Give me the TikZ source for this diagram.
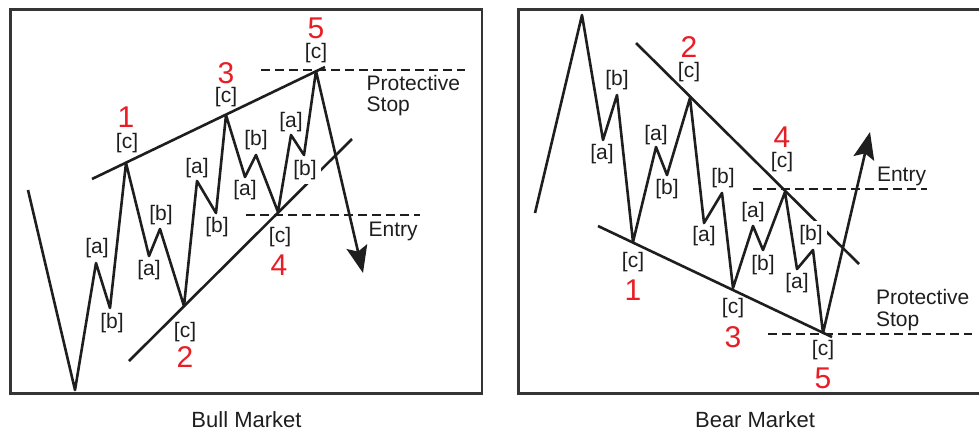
\documentclass[tikz,border=0pt]{standalone}
\usepackage{fontspec}
\setmainfont{Liberation Sans}
\usetikzlibrary{arrows.meta}
\definecolor{wavered}{RGB}{232,30,38}
\definecolor{ink}{RGB}{30,30,30}
\begin{document}
\begin{tikzpicture}[x=1pt,y=-1pt,
  frame/.style={line width=2.5pt, draw=ink!90},
  wave/.style={line width=2.6pt, line join=round, draw=ink},
  trend/.style={line width=2.6pt, draw=ink},
  level/.style={line width=2.5pt, draw=ink, dash pattern=on 9pt off 5pt},
  lab/.style={font=\fontsize{21}{24}\selectfont, inner sep=1pt, text=ink},
  gaplab/.style={lab, fill=white, inner sep=4pt},
  num/.style={font=\fontsize{30}{34}\selectfont, inner sep=0pt, text=wavered},
  note/.style={font=\fontsize{21}{24}\selectfont, inner sep=0pt, anchor=base west, text=ink},
  title/.style={font=\fontsize{22}{26}\selectfont, inner sep=0pt, anchor=base, text=ink},
  tip/.style={-{Stealth[length=27pt,width=21pt,inset=5pt]}},
]
\useasboundingbox (0,0) rectangle (979,429);

% frames
\draw[frame] (10.5,9.7) rectangle (482,393.7);
\draw[frame] (518.7,9.7) rectangle (1000,393.7);

% ---------------- Bull market ----------------
\coordinate (a0) at (28,190);
\coordinate (a1) at (75,390);
\coordinate (a2) at (96,263);
\coordinate (a3) at (110,308);
\coordinate (a4) at (126,163);
\coordinate (a5) at (149,256);
\coordinate (a6) at (160,229);
\coordinate (a7) at (184,306);
\coordinate (a8) at (197,181);
\coordinate (a9) at (216,213);
\coordinate (a10) at (226,115);
\coordinate (a11) at (245,177);
\coordinate (a12) at (256,155);
\coordinate (a13) at (278,212);
\coordinate (a14) at (291,135);
\coordinate (a15) at (304,155);
\coordinate (a16) at (316,71);
\coordinate (a17) at (363,273);

\coordinate (ut1) at (92,179);
\coordinate (ut2) at (325,67);
\coordinate (lt1) at (129,361);
\coordinate (lt2) at (352,139);
\coordinate (ds1) at (261,70);
\coordinate (ds2) at (465,70);
\coordinate (de1) at (246,215);
\coordinate (de2) at (420,215);

\draw[trend] (ut1) -- (ut2);
\draw[trend] (lt1) -- (lt2);
\draw[level] (ds1) -- (ds2);
\draw[level] (de1) -- (de2);
\node[gaplab] (bullb5) at (305,170) {[b]};

\draw[wave,tip] (a0) -- (a1) -- (a2) -- (a3) -- (a4) -- (a5) -- (a6) -- (a7)
  -- (a8) -- (a9) -- (a10) -- (a11) -- (a12) -- (a13) -- (a14) -- (a15)
  -- (a16) -- (a17);

\node[num] (bn1) at (126,117) {1};
\node[lab] (bc1) at (127,143) {[c]};
\node[lab] (ba1) at (97,248) {[a]};
\node[lab] (bb1) at (112,323) {[b]};
\node[lab] (bb2) at (161,215) {[b]};
\node[lab] (ba2) at (149,270) {[a]};
\node[lab] (bc2) at (185,332) {[c]};
\node[num] (bn2) at (185,357) {2};
\node[lab] (ba3) at (197,168) {[a]};
\node[lab] (bb3) at (217,227) {[b]};
\node[num] (bn3) at (226,73) {3};
\node[lab] (bc3) at (226,97) {[c]};
\node[lab] (bb4) at (256,140) {[b]};
\node[lab] (ba4) at (245,190) {[a]};
\node[lab] (ba5) at (291,122) {[a]};
\node[num] (bn5) at (316,28) {5};
\node[lab] (bc5) at (316,53) {[c]};
\node[lab] (bc4) at (280,237) {[c]};
\node[num] (bn4) at (279,265) {4};

\node[note] (bprot) at (366.5,90.7) {Protective};
\node[note] (bstop) at (366.5,111.7) {Stop};
\node[note] (bentry) at (368.5,236.7) {Entry};
\node[title] (bulltitle) at (246.5,427.5) {Bull Market};

% ---------------- Bear market ----------------
\coordinate (b0) at (535,213);
\coordinate (b1) at (582,15);
\coordinate (b2) at (603,140);
\coordinate (b3) at (617,95);
\coordinate (b4) at (633,242);
\coordinate (b5) at (656,147);
\coordinate (b6) at (667,175);
\coordinate (b7) at (690,98);
\coordinate (b8) at (704,223);
\coordinate (b9) at (722,193);
\coordinate (b10) at (733,288);
\coordinate (b11) at (753,226);
\coordinate (b12) at (763,250);
\coordinate (b13) at (785,192);
\coordinate (b14) at (797,269);
\coordinate (b15) at (813,250);
\coordinate (b16) at (823,333);
\coordinate (b17) at (870,132);

\coordinate (rut1) at (636,43);
\coordinate (rut2) at (859,264);
\coordinate (rlt1) at (598,226);
\coordinate (rlt2) at (832,337);
\coordinate (re1) at (753,189);
\coordinate (re2) at (927,189);
\coordinate (rs1) at (768,334);
\coordinate (rs2) at (972,334);

\draw[trend] (rut1) -- (rut2);
\draw[trend] (rlt1) -- (rlt2);
\draw[level] (re1) -- (re2);
\draw[level] (rs1) -- (rs2);
\node[gaplab] (rb5) at (811,235) {[b]};

\draw[wave,tip] (b0) -- (b1) -- (b2) -- (b3) -- (b4) -- (b5) -- (b6) -- (b7)
  -- (b8) -- (b9) -- (b10) -- (b11) -- (b12) -- (b13) -- (b14) -- (b15)
  -- (b16) -- (b17);

\node[lab] (rb1) at (617,80) {[b]};
\node[lab] (ra1) at (602,154) {[a]};
\node[lab] (ra2) at (656,135) {[a]};
\node[lab] (rb2) at (667,189) {[b]};
\node[num] (rn2) at (689,47) {2};
\node[lab] (rc2) at (689,72) {[c]};
\node[lab] (rb3) at (723,178) {[b]};
\node[lab] (ra3) at (704,236) {[a]};
\node[lab] (rc1) at (633,262) {[c]};
\node[num] (rn1) at (633,290) {1};
\node[lab] (rc3) at (733,308) {[c]};
\node[num] (rn3) at (733,337) {3};
\node[lab] (ra4) at (753,212) {[a]};
\node[lab] (rb4) at (763,265) {[b]};
\node[num] (rn4) at (782,137) {4};
\node[lab] (rc4) at (782,162) {[c]};
\node[lab] (ra5) at (797,283) {[a]};
\node[lab] (rc5) at (823,350) {[c]};
\node[num] (rn5) at (823,378) {5};

\node[note] (rentry) at (876.8,181.7) {Entry};
\node[note] (rprot) at (875.8,304.3) {Protective};
\node[note] (rstop) at (875.8,326.5) {Stop};
\node[title] (beartitle) at (755,427) {Bear Market};
\end{tikzpicture}
\end{document}
